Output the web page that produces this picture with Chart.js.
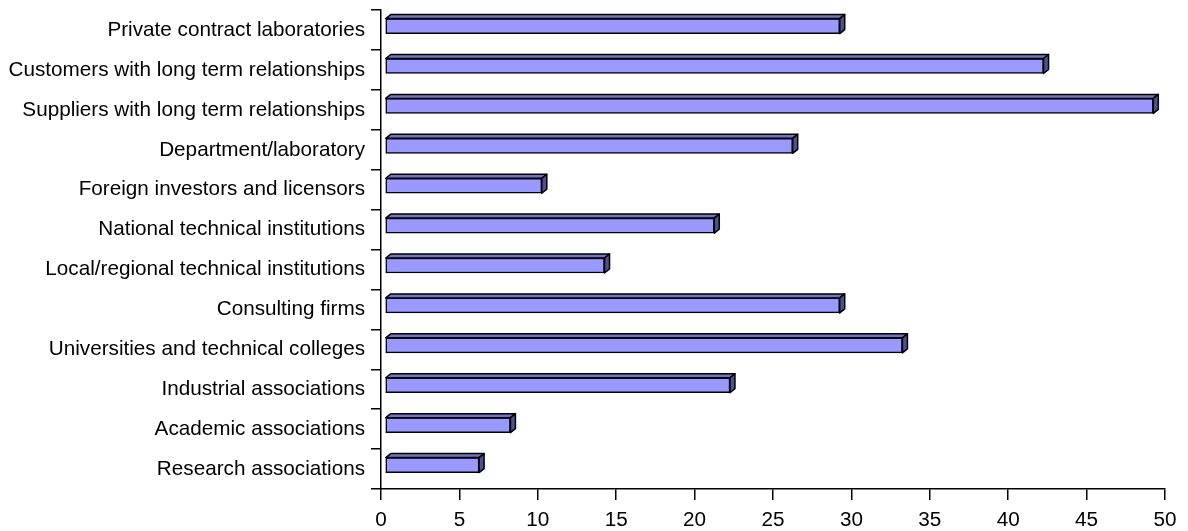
<!DOCTYPE html>
<html>
<head>
<meta charset="utf-8">
<script src="https://cdn.jsdelivr.net/npm/chart.js@4"></script>
<style>
  html, body { margin: 0; padding: 0; background: #fff; }
  #wrap { width: 1188px; height: 531px; }
</style>
</head>
<body>
<div id="wrap"><canvas id="chart-1"></canvas></div>
<script>
const categories = [
  'Private contract laboratories',
  'Customers with long term relationships',
  'Suppliers with long term relationships',
  'Department/laboratory',
  'Foreign investors and licensors',
  'National technical institutions',
  'Local/regional technical institutions',
  'Consulting firms',
  'Universities and technical colleges',
  'Industrial associations',
  'Academic associations',
  'Research associations'
];
const values = [29, 42, 49, 26, 10, 21, 14, 29, 33, 22, 8, 6];
const xMin = 0;
const xMax = 50;
const xStep = 5;

// fake 3D look: shift the front faces a bit and add top + side faces
const bar3d = {
  id: 'bar3d',
  beforeDatasetsDraw(chart) {
    chart.ctx.save();
    chart.ctx.translate(4, -4);
  },
  afterDatasetsDraw(chart) {
    const ctx = chart.ctx;
    const dx = 5, dy = 4;
    chart.getDatasetMeta(0).data.forEach(bar => {
      const p = bar.getProps(['x', 'y', 'base', 'height'], true);
      const top = p.y - p.height / 2;
      const bottom = p.y + p.height / 2;
      ctx.lineWidth = 1.5;
      ctx.strokeStyle = '#000';
      ctx.lineJoin = 'round';
      // top face
      ctx.beginPath();
      ctx.moveTo(p.base, top);
      ctx.lineTo(p.base + dx, top - dy);
      ctx.lineTo(p.x + dx, top - dy);
      ctx.lineTo(p.x, top);
      ctx.closePath();
      ctx.fillStyle = '#7373bf';
      ctx.fill();
      ctx.stroke();
      // side face
      ctx.beginPath();
      ctx.moveTo(p.x, top);
      ctx.lineTo(p.x + dx, top - dy);
      ctx.lineTo(p.x + dx, bottom - dy);
      ctx.lineTo(p.x, bottom);
      ctx.closePath();
      ctx.fillStyle = '#50508a';
      ctx.fill();
      ctx.stroke();
    });
    ctx.restore();
  }
};

const ctx = document.getElementById('chart-1').getContext('2d');
const chart = new Chart(ctx, {
  type: 'bar',
  data: {
    labels: categories,
    datasets: [{
      data: values,
      backgroundColor: '#9999ff',
      borderColor: '#000',
      borderWidth: 1.5,
      borderSkipped: false,
      barThickness: 15
    }]
  },
  options: {
    indexAxis: 'y',
    responsive: true,
    maintainAspectRatio: false,
    animation: false,
    devicePixelRatio: 1,
    layout: { padding: { top: 0, right: 23, left: 0, bottom: 0 } },
    plugins: {
      legend: { display: false },
      tooltip: { enabled: false }
    },
    scales: {
      x: {
        min: xMin,
        max: xMax,
        ticks: {
          stepSize: xStep,
          color: '#000',
          padding: 8,
          font: { family: 'Liberation Sans', size: 20.7 }
        },
        border: { color: '#000', width: 1.5 },
        grid: {
          drawOnChartArea: false,
          color: '#000',
          lineWidth: 1.5,
          tickLength: 11
        },
        afterFit(scale) { scale.height = 42; }
      },
      y: {
        ticks: {
          color: '#000',
          padding: 6,
          font: { family: 'Liberation Sans', size: 20.7, lineHeight: 0.4 }
        },
        border: { color: '#000', width: 1.5 },
        grid: {
          offset: true,
          drawOnChartArea: false,
          color: '#000',
          lineWidth: 1.5,
          tickLength: 10
        },
        afterFit(scale) { scale.width = 381; }
      }
    }
  },
  plugins: [bar3d]
});
</script>
</body>
</html>
